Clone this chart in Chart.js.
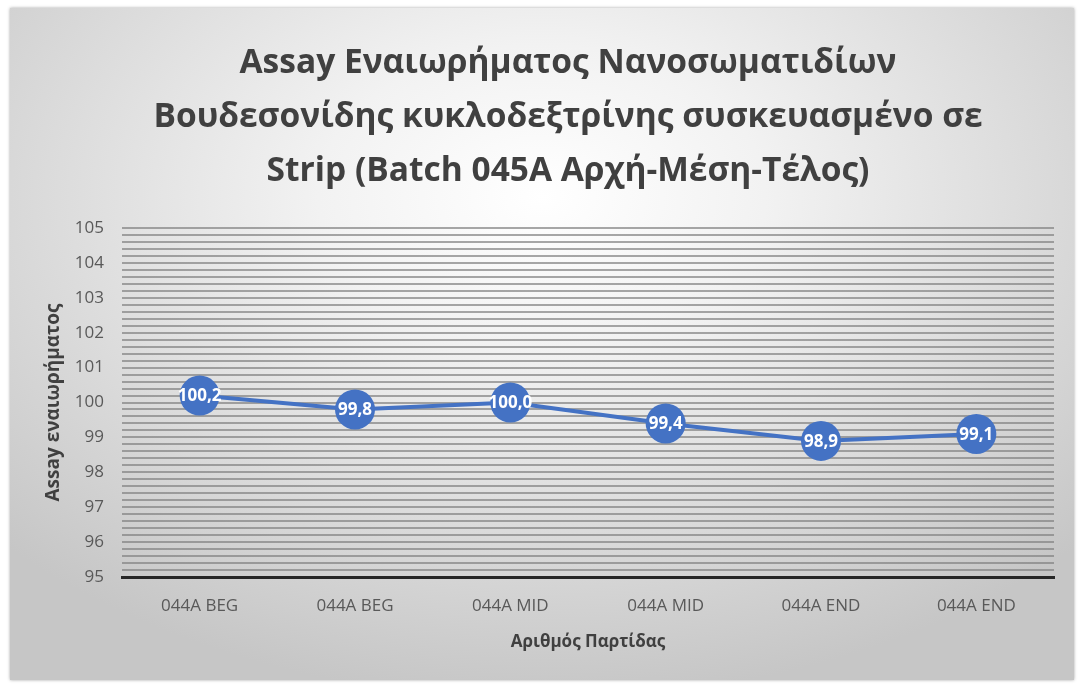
<!DOCTYPE html>
<html>
<head>
<meta charset="utf-8">
<script src="https://cdn.jsdelivr.net/npm/chart.js@4"></script>
<style>
  html, body { margin: 0; padding: 0; background: #fff; }
  #box {
    position: absolute; left: 10px; top: 8px; width: 1064px; height: 672px;
    background: radial-gradient(ellipse 70% 75% at 50% 28%, #ffffff 0%, #f2f2f2 30%, #dcdcdc 65%, #c6c6c6 100%);
    box-shadow: 0 0 3px rgba(0,0,0,.35);
  }
  #box canvas { display: block; }
</style>
</head>
<body>
<div id="box"><canvas id="chart" width="1064" height="672"></canvas></div>
<script>
/* ═══ DATA ═══════════════════════════════════════════ */
const BATCHES = ['044A BEG','044A BEG','044A MID','044A MID','044A END','044A END'];
const ASSAY = [100.2, 99.8, 100.0, 99.4, 98.9, 99.1];
const Y_MIN = 95, Y_MAX = 105, Y_STEP = 0.2;
const TITLE_LINES = [
  'Assay Εναιωρήματος Νανοσωματιδίων',
  'Βουδεσονίδης κυκλοδεξτρίνης συσκευασμένο σε',
  'Strip (Batch 045A Αρχή-Μέση-Τέλος)'
];
const FONT = "'Open Sans', 'Noto Sans', sans-serif";
const BLUE = '#4472C4';

// three-line heading, centred a little right of the canvas middle
const heading = {
  id: 'heading',
  afterDraw(chart) {
    const ctx = chart.ctx;
    ctx.save();
    ctx.font = 'bold 33.5px ' + FONT;
    ctx.fillStyle = '#404040';
    ctx.textAlign = 'center';
    ctx.textBaseline = 'middle';
    TITLE_LINES.forEach((t, i) => ctx.fillText(t, 558, 55 + i * 54));
    ctx.restore();
  }
};

// values written inside the markers, decimal comma
const pointLabels = {
  id: 'pointLabels',
  afterDatasetsDraw(chart) {
    const ctx = chart.ctx;
    const meta = chart.getDatasetMeta(0);
    ctx.save();
    ctx.font = 'bold 17px ' + FONT;
    ctx.fillStyle = '#ffffff';
    ctx.textAlign = 'center';
    ctx.textBaseline = 'middle';
    meta.data.forEach((pt, i) => {
      ctx.fillText(ASSAY[i].toFixed(1).replace('.', ','), pt.x, pt.y + 1);
    });
    ctx.restore();
  }
};

new Chart(document.getElementById('chart'), {
  type: 'line',
  data: {
    labels: BATCHES,
    datasets: [{
      label: 'Assay',
      data: ASSAY,
      borderColor: BLUE,
      borderWidth: 4,
      backgroundColor: BLUE,
      pointRadius: 20,
      pointBorderWidth: 0,
      pointBackgroundColor: BLUE,
      tension: 0
    }]
  },
  options: {
    responsive: false,
    animation: false,
    layout: { padding: { left: 28, right: 6, top: 220, bottom: 24 } },
    plugins: {
      legend: { display: false },
      tooltip: { enabled: false },
      title: { display: false }
    },
    scales: {
      x: {
        offset: true,
        grid: { display: false },
        border: { display: true, color: '#262626', width: 3 },
        ticks: { color: '#595959', font: { family: FONT, size: 17 }, padding: 11 },
        title: { display: true, text: 'Αριθμός Παρτίδας', color: '#404040',
                 font: { family: FONT, size: 17, weight: 'bold' }, padding: { top: 4, bottom: 4 } },
        afterFit: s => { s.height = 79; }
      },
      y: {
        min: Y_MIN, max: Y_MAX,
        grid: { color: 'rgba(130,130,130,0.7)', lineWidth: 2, drawTicks: false },
        border: { display: false },
        ticks: {
          stepSize: Y_STEP, autoSkip: false, padding: 18,
          color: '#595959', font: { family: FONT, size: 17 },
          callback: v => Math.abs(v - Math.round(v)) < 1e-6 ? Math.round(v) : ''
        },
        title: { display: true, text: 'Assay εναιωρήματος', color: '#404040',
                 font: { family: FONT, size: 19, weight: 'bold' } },
        afterFit: s => { s.width = 84; }
      }
    }
  },
  plugins: [pointLabels, heading]
});
</script>
</body>
</html>
